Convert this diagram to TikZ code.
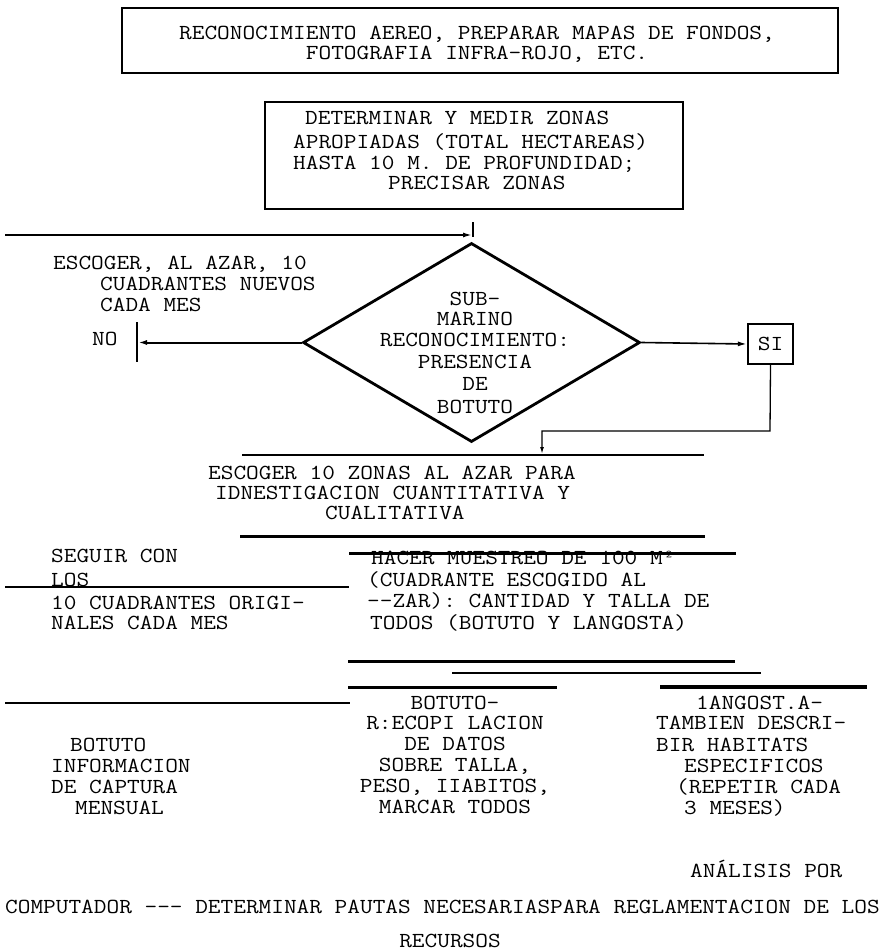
\documentclass[tikz,border=0pt]{standalone}
\usepackage{fontspec}
\usetikzlibrary{arrows.meta,shapes.geometric}
\newcommand\stretchtxt[1]{\scalebox{1.15}[1]{#1}}
\begin{document}
\begin{tikzpicture}[x=1pt,y=-1pt,
  tl/.style={font=\ttfamily\fontsize{21.4}{21.4}\selectfont, inner sep=0pt, anchor=base west},
  tc/.style={font=\ttfamily\fontsize{21.4}{21.4}\selectfont, inner sep=0pt, anchor=base},
  boxed/.style={draw, line width=2.4pt, inner sep=0pt},
  hl/.style={line width=3pt},
  arr/.style={line width=1.6pt, -{Latex[length=9pt,width=5pt]}},
  thinarr/.style={line width=1.3pt, -{Latex[length=7pt,width=4pt]}},
  ]
\useasboundingbox[fill=white] (0,0) rectangle (894,952);

% boxes
\node[boxed, minimum width=716pt, minimum height=65pt] (box1) at (480,40.5) {};
\node[tc] (b1a) at (477,39.5) {\stretchtxt{RECONOCIMIENTO AEREO, PREPARAR MAPAS DE FONDOS,}};
\node[tc] (b1b) at (477,59.5) {\stretchtxt{FOTOGRAFIA INFRA-ROJO, ETC.}};

\node[boxed, line width=2.2pt, minimum width=418pt, minimum height=107pt] (box2) at (474,155.5) {};
\node[tl] (b2a) at (305,124.5) {\stretchtxt{DETERMINAR Y MEDIR ZONAS}};
\node[tl] (b2b) at (293,148.5) {\stretchtxt{APROPIADAS (TOTAL HECTAREAS)}};
\node[tl] (b2c) at (293,169.5) {\stretchtxt{HASTA 10 M. DE PROFUNDIDAD;}};
\node[tl] (b2d) at (388,189.5) {\stretchtxt{PRECISAR ZONAS}};

% decision
\node[draw, diamond, line width=2.8pt, inner sep=0pt, minimum width=337pt, minimum height=199pt, aspect=1.69] (dia) at (471.5,342.5) {};
\node[tc] (d1) at (475,305.5) {\stretchtxt{SUB-}};
\node[tc] (d2) at (475,325.5) {\stretchtxt{MARINO}};
\node[tc] (d3) at (475,346.5) {\stretchtxt{RECONOCIMIENTO:}};
\node[tc] (d4) at (475,368.5) {\stretchtxt{PRESENCIA}};
\node[tc] (d5) at (475,390.5) {\stretchtxt{DE}};
\node[tc] (d6) at (475,413.5) {\stretchtxt{BOTUTO}};

\node[boxed, line width=2.2pt, minimum width=45pt, minimum height=40pt, font=\ttfamily\fontsize{21.4}{21.4}\selectfont] (si) at (770.5,344) {\stretchtxt{SI}};

% entry arrow
\coordinate (tin) at (5,235);
\coordinate (tend) at (472,235);
\coordinate (tk1) at (473,222);
\coordinate (tk2) at (473,237);
\draw[arr] (tin) -- (tend);
\draw[line width=1.4pt] (tk1) -- (tk2);

% NO branch
\coordinate (noend) at (138,342.5);
\coordinate (nt1) at (137,322);
\coordinate (nt2) at (137,362);
\draw[arr, line width=2pt] (dia.west) -- (noend);
\draw[line width=2pt] (nt1) -- (nt2);
\node[tl] (no) at (92,345.5) {\stretchtxt{NO}};
\node[tl] (e1) at (53,269.5) {\stretchtxt{ESCOGER, AL AZAR, 10}};
\node[tl] (e2) at (100,290.5) {\stretchtxt{CUADRANTES NUEVOS}};
\node[tl] (e3) at (100,311.5) {\stretchtxt{CADA MES}};

% SI branch
\draw[arr] (dia.east) -- (si.west);
\coordinate (sk) at (770,431);
\coordinate (sj) at (542,454);
\draw[thinarr] (si.south) -- (sk) -| (sj);

% horizontal rules
\draw[line width=1.5pt] (242,455) -- (704,455);
\draw[hl] (240,536) -- (705,536);
\draw[hl] (349,553) -- (736,553);
\draw[line width=2.5pt] (5,587) -- (349,587);
\draw[hl] (348,661) -- (735,661);
\draw[line width=2pt] (452,673) -- (761,673);
\draw[hl] (348,687) -- (557,687);
\draw[line width=3.5pt] (660,687) -- (867,687);
\draw[line width=2.5pt] (5,703) -- (350,703);

% middle texts
\node[tl] (z1) at (208,479.5) {\stretchtxt{ESCOGER 10 ZONAS AL AZAR PARA}};
\node[tl] (z2) at (215,499.5) {\stretchtxt{IDNESTIGACION CUANTITATIVA Y}};
\node[tl] (z3) at (325,519.5) {\stretchtxt{CUALITATIVA}};

\node[tl] (s1) at (51,562.5) {\stretchtxt{SEGUIR CON}};
\node[tl] (s2) at (51,586.5) {\stretchtxt{LOS}};
\node[tl] (s3) at (51,609.5) {\stretchtxt{10 CUADRANTES ORIGI-}};
\node[tl] (s4) at (51,629.5) {\stretchtxt{NALES CADA MES}};

\node[tl] (h1) at (371,564.5) {\stretchtxt{HACER MUESTREO DE 100 M²}};
\node[tl] (h2) at (367,586.5) {\stretchtxt{(CUADRANTE ESCOGIDO AL}};
\node[tl] (h3) at (367,607.5) {\stretchtxt{-{}-ZAR): CANTIDAD Y TALLA DE}};
\node[tl] (h4) at (370,629.5) {\stretchtxt{TODOS (BOTUTO Y LANGOSTA)}};

\node[tl] (c1) at (70,751.5) {\stretchtxt{BOTUTO}};
\node[tl] (c2) at (51,772.5) {\stretchtxt{INFORMACION}};
\node[tl] (c3) at (51,793.5) {\stretchtxt{DE CAPTURA}};
\node[tl] (c4) at (75,814.5) {\stretchtxt{MENSUAL}};

\node[tc] (m1) at (455,709.5) {\stretchtxt{BOTUTO-}};
\node[tc] (m2) at (455,729.5) {\stretchtxt{R:ECOPI LACION}};
\node[tc] (m3) at (455,750.5) {\stretchtxt{DE DATOS}};
\node[tc] (m4) at (455,771.5) {\stretchtxt{SOBRE TALLA,}};
\node[tc] (m5) at (455,792.5) {\stretchtxt{PESO, IIABITOS,}};
\node[tc] (m6) at (455,813.5) {\stretchtxt{MARCAR TODOS}};

\node[tl] (r1) at (696,709.5) {\stretchtxt{1ANGOST.A-}};
\node[tl] (r2) at (656,729.5) {\stretchtxt{TAMBIEN DESCRI-}};
\node[tl] (r3) at (656,751.5) {\stretchtxt{BIR HABITATS}};
\node[tl] (r4) at (684,772.5) {\stretchtxt{ESPECIFICOS}};
\node[tl] (r5) at (676,793.5) {\stretchtxt{(REPETIR CADA}};
\node[tl] (r6) at (684,814.5) {\stretchtxt{3 MESES)}};

\node[tl] (a1) at (690,877.5) {\stretchtxt{ANÁLISIS POR}};
\node[tl] (a2) at (5,913.5) {\stretchtxt{COMPUTADOR -{}-{}- DETERMINAR PAUTAS NECESARIASPARA REGLAMENTACION DE LOS}};
\node[tc] (a3) at (450,947.5) {\stretchtxt{RECURSOS}};
\end{tikzpicture}
\end{document}
